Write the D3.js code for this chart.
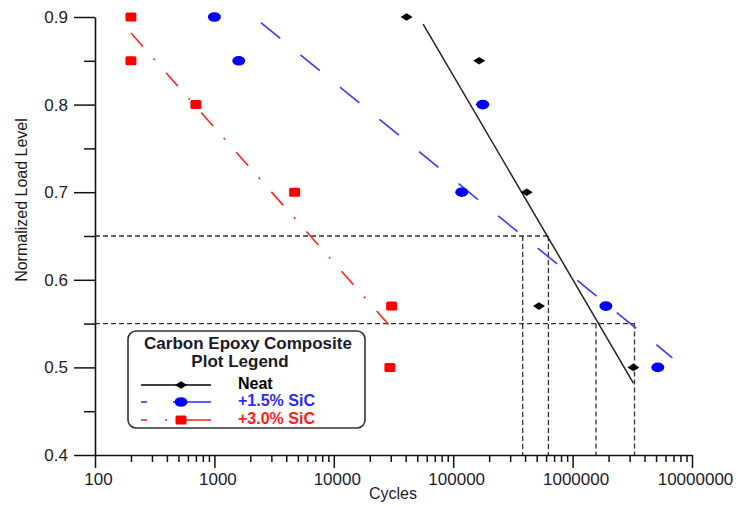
<!DOCTYPE html>
<html lang="en">
<head>
    <meta charset="UTF-8">
    <title>Carbon Epoxy Composite S-N</title>
    <script src="https://d3js.org/d3.v7.min.js"></script>
    <style>
        body { margin: 0; background: white; font-family: "Liberation Sans", Arial, sans-serif; }
        svg { display: block; }
    </style>
</head>
<body>
    <svg width="738" height="506"></svg>

    <script>
        // load levels shared by all series
        const loadLevels = [0.9, 0.85, 0.8, 0.7, 0.57, 0.5];
        const neatCycles = [40700, 165000, 172000, 413000, 523000, 3230000];
        const sic15Cycles = [1000, 1600, 177000, 118000, 1900000, 5170000];
        const sic30Cycles = [200, 200, 700, 4700, 30500, 29500];

        // fitted lines (end points)
        const neatFitCycles = [56000, 3230000];
        const neatFitLoad = [0.892, 0.482];
        const sic15FitCycles = [2450, 6840000];
        const sic15FitLoad = [0.8935, 0.511];
        const sic30FitCycles = [200, 29600];
        const sic30FitLoad = [0.8817, 0.547];

        // dashed reference lines
        const refLevels = [0.65, 0.55];
        const refCycles = [[382000, 627000], [1570000, 3300000]];

        const xMajor = [100, 1000, 10000, 100000, 1000000, 10000000];
        const yMajor = [0.4, 0.5, 0.6, 0.7, 0.8, 0.9];
        const yMinor = [0.45, 0.55, 0.65, 0.75, 0.85];

        const svg = d3.select("svg");
        const x = d3.scaleLog().domain([100, 1e7]).range([95, 692]);
        const y = d3.scaleLinear().domain([0.4, 0.9]).range([455, 17]);

        // reference dashed lines
        const ref = svg.append("g").attr("stroke", "#333").attr("stroke-width", 1.3)
            .attr("stroke-dasharray", "5,3").attr("fill", "none");
        refLevels.forEach((lv, i) => {
            ref.append("line")
                .attr("x1", x(100)).attr("x2", x(d3.max(refCycles[i])))
                .attr("y1", y(lv)).attr("y2", y(lv));
            refCycles[i].forEach(c => {
                ref.append("line")
                    .attr("x1", x(c)).attr("x2", x(c))
                    .attr("y1", y(lv)).attr("y2", y(0.4));
            });
        });

        // fit lines
        const fitLine = (cs, ls) => d3.line()(cs.map((c, i) => [x(c), y(ls[i])]));
        svg.append("path").attr("d", fitLine(sic30FitCycles, sic30FitLoad))
            .attr("stroke", "#ff2020").attr("stroke-width", 1.6).attr("fill", "none")
            .attr("stroke-dasharray", "18,16,2,17");
        svg.append("path").attr("d", fitLine(sic15FitCycles, sic15FitLoad))
            .attr("stroke", "#3838ff").attr("stroke-width", 1.6).attr("fill", "none")
            .attr("stroke-dasharray", "25,26");
        svg.append("path").attr("d", fitLine(neatFitCycles, neatFitLoad))
            .attr("stroke", "#222").attr("stroke-width", 1.5).attr("fill", "none");

        // markers
        const diamond = "M-6,0L0,-3.8L6,0L0,3.8Z";
        function drawNeat(g, cx, cy) {
            g.append("path").attr("d", diamond).attr("transform", `translate(${cx},${cy})`).attr("fill", "#000");
        }
        function drawSic15(g, cx, cy) {
            g.append("ellipse").attr("cx", cx).attr("cy", cy).attr("rx", 6.5).attr("ry", 4.8).attr("fill", "#0000ff");
        }
        function drawSic30(g, cx, cy) {
            g.append("rect").attr("x", cx - 5.5).attr("y", cy - 4.5).attr("width", 11).attr("height", 9)
                .attr("rx", 1.5).attr("fill", "#ff0000");
        }
        const marks = svg.append("g");
        loadLevels.forEach((lv, i) => drawNeat(marks, x(neatCycles[i]), y(lv)));
        loadLevels.forEach((lv, i) => drawSic15(marks, x(sic15Cycles[i]), y(lv)));
        loadLevels.forEach((lv, i) => drawSic30(marks, x(sic30Cycles[i]), y(lv)));

        // x axis
        const xTicks = [];
        xMajor.forEach(m => { for (let k = 1; k < 10; k++) if (m * k <= 1e7) xTicks.push(m * k); });
        const xAxis = svg.append("g").attr("transform", `translate(0,${y(0.4)})`)
            .call(d3.axisBottom(x).tickValues(xTicks).tickSizeInner(13).tickSizeOuter(0).tickPadding(5)
                .tickFormat(d => xMajor.includes(d) ? d3.format("d")(d) : ""));
        xAxis.selectAll("line").filter(d => !xMajor.includes(d)).attr("y2", 7);
        xAxis.selectAll("text").attr("dx", 3);

        // y axis
        const yAxis = svg.append("g").attr("transform", `translate(${x(100)},0)`)
            .call(d3.axisLeft(y).tickValues(yMajor.concat(yMinor)).tickSizeInner(21).tickSizeOuter(0).tickPadding(6)
                .tickFormat(d => yMajor.includes(d) ? d3.format(".1f")(d) : ""));
        yAxis.selectAll("line").filter(d => !yMajor.includes(d)).attr("x2", -11);

        [xAxis, yAxis].forEach(a => {
            a.select(".domain").attr("stroke", "#111").attr("stroke-width", 1.6);
            a.selectAll(".tick line").attr("stroke", "#111").attr("stroke-width", 1.5);
            a.selectAll("text").attr("font-size", 17).attr("fill", "#1c1c28")
                .attr("font-family", '"Liberation Sans", Arial, sans-serif');
        });

        svg.append("text").attr("x", 393).attr("y", 499)
            .attr("text-anchor", "middle").attr("font-size", 16).attr("fill", "#1c1c28").text("Cycles");
        svg.append("text").attr("transform", "translate(27,200) rotate(-90)")
            .attr("text-anchor", "middle").attr("font-size", 16).attr("fill", "#1c1c28").text("Normalized Load Level");

        // legend
        const lg = svg.append("g");
        lg.append("rect").attr("x", 128).attr("y", 331).attr("width", 237).attr("height", 97).attr("rx", 8)
            .attr("fill", "white").attr("stroke", "#333").attr("stroke-width", 1.6);
        lg.append("text").attr("x", 248).attr("y", 349).attr("text-anchor", "middle")
            .attr("font-size", 17).attr("font-weight", "bold").attr("fill", "#1a1a2a").text("Carbon Epoxy Composite");
        lg.append("text").attr("x", 240).attr("y", 367).attr("text-anchor", "middle")
            .attr("font-size", 17).attr("font-weight", "bold").attr("fill", "#1a1a2a").text("Plot Legend");

        const legendNames = ["Neat", "+1.5% SiC", "+3.0% SiC"];
        const legendColors = ["#000", "#2a2aff", "#ff1a1a"];
        const legendDash = ["none", "6,26,60", "6,18,2,12,60"];
        const legendDraw = [drawNeat, drawSic15, drawSic30];
        const legendY = [385, 402, 420];
        legendNames.forEach((n, i) => {
            lg.append("line").attr("x1", 141).attr("x2", 211).attr("y1", legendY[i]).attr("y2", legendY[i])
                .attr("stroke", legendColors[i]).attr("stroke-width", 1.5).attr("stroke-dasharray", legendDash[i]);
            legendDraw[i](lg, 181, legendY[i]);
            lg.append("text").attr("x", 238).attr("y", legendY[i] + 4).attr("font-size", 16)
                .attr("font-weight", "bold").attr("fill", legendColors[i]).text(n);
        });
    </script>
</body>
</html>
